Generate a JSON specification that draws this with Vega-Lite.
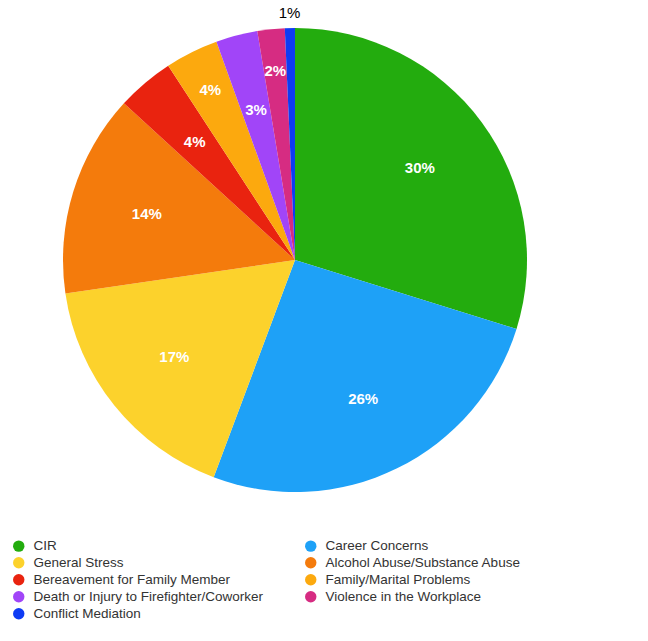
{
  "$schema": "https://vega.github.io/schema/vega-lite/v6.json",
  "width": 590,
  "height": 520,
  "autosize": "none",
  "padding": {"left": 0, "top": 0, "right": 58, "bottom": 121},
  "background": "white",
  "config": {"view": {"stroke": null}, "font": "Liberation Sans"},
  "data": {"values": [
    {"category": "CIR", "value": 29.8, "label": "30%"},
    {"category": "Career Concerns", "value": 25.9, "label": "26%"},
    {"category": "General Stress", "value": 17.0, "label": "17%"},
    {"category": "Alcohol Abuse/Substance Abuse", "value": 14.1, "label": "14%"},
    {"category": "Bereavement for Family Member", "value": 4.0, "label": "4%"},
    {"category": "Family/Marital Problems", "value": 3.7, "label": "4%"},
    {"category": "Death or Injury to Firefighter/Coworker", "value": 2.9, "label": "3%"},
    {"category": "Violence in the Workplace", "value": 1.9, "label": "2%"},
    {"category": "Conflict Mediation", "value": 0.7, "label": "1%"}
  ]},
  "transform": [{"window": [{"op": "row_number", "as": "idx"}]}],
  "encoding": {
    "theta": {"field": "value", "type": "quantitative", "stack": true},
    "order": {"field": "idx", "type": "quantitative"}
  },
  "layer": [
    {
      "mark": {"type": "arc", "outerRadius": 232},
      "encoding": {
        "color": {
          "field": "category", "type": "nominal",
          "sort": ["CIR", "Career Concerns", "General Stress", "Alcohol Abuse/Substance Abuse", "Bereavement for Family Member", "Family/Marital Problems", "Death or Injury to Firefighter/Coworker", "Violence in the Workplace", "Conflict Mediation"],
          "scale": {
            "domain": ["CIR", "Career Concerns", "General Stress", "Alcohol Abuse/Substance Abuse", "Bereavement for Family Member", "Family/Marital Problems", "Death or Injury to Firefighter/Coworker", "Violence in the Workplace", "Conflict Mediation"],
            "range": ["#23AC0E", "#1EA1F7", "#FCD22C", "#F47B0C", "#E9230F", "#FCA90E", "#A145F8", "#D62C82", "#0E3BF4"]
          },
          "legend": {
            "title": null,
            "orient": "none",
            "direction": "horizontal",
            "legendX": 12,
            "legendY": 539,
            "columns": 2,
            "columnPadding": 40,
            "rowPadding": 2,
            "symbolType": "circle",
            "symbolSize": 130,
            "symbolStrokeWidth": 0,
            "labelFontSize": 13.5,
            "labelColor": "#333333",
            "labelFont": "Liberation Sans",
            "labelLimit": 300,
            "labelOffset": 8
          }
        }
      }
    },
    {
      "mark": {"type": "text", "radius": 155, "fontSize": 15, "fontWeight": "bold", "color": "white", "font": "Liberation Sans"},
      "encoding": {
        "text": {"field": "label"},
        "opacity": {"condition": {"test": "datum.idx <= 5 || datum.idx == 7", "value": 1}, "value": 0}
      }
    },
    {
      "mark": {"type": "text", "radius": 190, "fontSize": 15, "fontWeight": "bold", "color": "white", "font": "Liberation Sans"},
      "encoding": {
        "text": {"field": "label"},
        "opacity": {"condition": {"test": "datum.idx == 6 || datum.idx == 8", "value": 1}, "value": 0}
      }
    },
    {
      "mark": {"type": "text", "radius": 247, "fontSize": 15, "color": "black", "font": "Liberation Sans"},
      "encoding": {
        "text": {"field": "label"},
        "opacity": {"condition": {"test": "datum.idx == 9", "value": 1}, "value": 0}
      }
    }
  ]
}
